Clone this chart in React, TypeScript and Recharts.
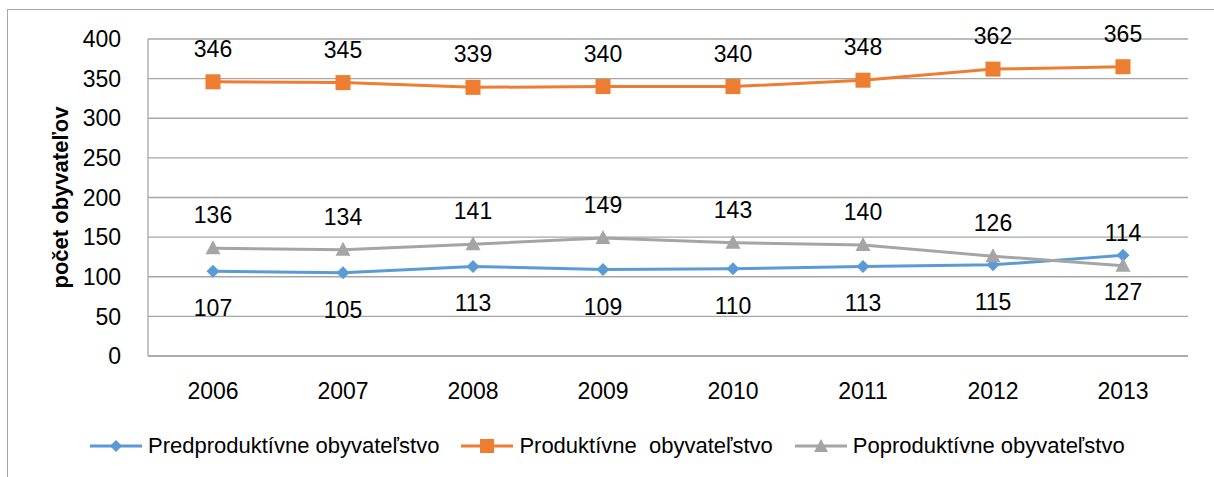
import { LineChart, Line, XAxis, YAxis, CartesianGrid, LabelList, Legend } from 'recharts'

const years = ['2006', '2007', '2008', '2009', '2010', '2011', '2012', '2013']
const predproduktivne = [107, 105, 113, 109, 110, 113, 115, 127]
const produktivne = [346, 345, 339, 340, 340, 348, 362, 365]
const poproduktivne = [136, 134, 141, 149, 143, 140, 126, 114]
const yTicks = [0, 50, 100, 150, 200, 250, 300, 350, 400]

const BLUE = '#5B9BD5'
const ORANGE = '#ED7D31'
const GRAY = '#A5A5A5'
const GRID = '#A6A6A6'
const FONT = '"Liberation Sans", Arial, sans-serif'

const data = years.map((year, i) => ({
  year,
  pre: predproduktivne[i],
  pro: produktivne[i],
  post: poproduktivne[i],
}))

const Diamond = (props: any) => {
  const { cx, cy } = props
  if (cx == null || cy == null) return null
  const r = 6.5
  return <path d={`M${cx},${cy - r}L${cx + r},${cy}L${cx},${cy + r}L${cx - r},${cy}Z`} fill={BLUE} />
}

const Square = (props: any) => {
  const { cx, cy } = props
  if (cx == null || cy == null) return null
  return <rect x={cx - 7.5} y={cy - 7.5} width={15} height={15} fill={ORANGE} />
}

const Triangle = (props: any) => {
  const { cx, cy } = props
  if (cx == null || cy == null) return null
  return <path d={`M${cx},${cy - 8}L${cx + 7.5},${cy + 6}L${cx - 7.5},${cy + 6}Z`} fill={GRAY} />
}

const makeLabel = (dy: number) => (props: any) => {
  const { x, y, value } = props
  return (
    <text x={x} y={y + dy} textAnchor="middle" fontSize={23} fontFamily={FONT} fill="#000">
      {value}
    </text>
  )
}

const legendItems = [
  { name: 'Predproduktívne obyvateľstvo', color: BLUE, shape: 'diamond' },
  { name: 'Produktívne\u00a0 obyvateľstvo', color: ORANGE, shape: 'square' },
  { name: 'Poproduktívne obyvateľstvo', color: GRAY, shape: 'triangle' },
]

const LegendContent = () => (
  <div style={{ display: 'flex', alignItems: 'center', gap: 21, paddingLeft: 89, height: 26 }}>
    {legendItems.map(item => (
      <div key={item.name} style={{ display: 'flex', alignItems: 'center', gap: 5 }}>
        <svg width={54} height={18}>
          <line x1={1} y1={9} x2={53} y2={9} stroke={item.color} strokeWidth={3} />
          {item.shape === 'diamond' && <path d="M27,3L33,9L27,15L21,9Z" fill={item.color} />}
          {item.shape === 'square' && <rect x={20} y={2} width={14} height={14} fill={item.color} />}
          {item.shape === 'triangle' && <path d="M27,2L34,15L20,15Z" fill={item.color} />}
        </svg>
        <span style={{ fontFamily: FONT, fontSize: 22, lineHeight: '26px', color: '#000', whiteSpace: 'pre' }}>{item.name}</span>
      </div>
    ))}
  </div>
)

const AxisTitle = (props: any) => {
  const { viewBox } = props
  const x = 68
  const y = viewBox.y + viewBox.height / 2
  return (
    <text
      x={x}
      y={y}
      transform={`rotate(-90, ${x}, ${y})`}
      textAnchor="middle"
      fontSize={22}
      fontWeight="bold"
      fontFamily={FONT}
      fill="#000"
    >
      počet obyvateľov
    </text>
  )
}

export default function App() {
  return (
    <div style={{ position: 'absolute', left: 0, top: 0, width: 1214, height: 477, overflow: 'hidden', background: '#fff' }}>
      <div
        style={{
          position: 'absolute',
          left: 7,
          top: 9,
          width: 1400,
          height: 700,
          border: '1px solid #A6A6A6',
        }}
      />
      <div style={{ position: 'absolute', left: 0, top: 0 }}>
        <LineChart width={1214} height={477} data={data} margin={{ top: 39, right: 26, bottom: 35, left: 48 }}>
          <CartesianGrid vertical={false} stroke={GRID} strokeWidth={1.3} />
          <XAxis
            dataKey="year"
            padding={{ left: 65, right: 65 }}
            axisLine={{ stroke: GRID, strokeWidth: 1.3 }}
            tickLine={false}
            tickSize={6}
            tickMargin={21}
            height={60}
            tick={{ fill: '#000', fontSize: 23, fontFamily: FONT }}
          />
          <YAxis
            domain={[0, 400]}
            ticks={yTicks}
            width={100}
            axisLine={{ stroke: GRID, strokeWidth: 1.3 }}
            tickLine={false}
            tickSize={6}
            tickMargin={21}
            tick={{ fill: '#000', fontSize: 23, fontFamily: FONT }}
            label={<AxisTitle />}
          />
          <Legend verticalAlign="bottom" wrapperStyle={{ left: 0, top: 433, width: 1214 }} content={<LegendContent />} />
          <Line
            dataKey="pre"
            stroke={BLUE}
            strokeWidth={3}
            dot={<Diamond />}
            activeDot={false}
            isAnimationActive={false}
          >
            <LabelList dataKey="pre" content={makeLabel(45)} />
          </Line>
          <Line
            dataKey="pro"
            stroke={ORANGE}
            strokeWidth={3}
            dot={<Square />}
            activeDot={false}
            isAnimationActive={false}
          >
            <LabelList dataKey="pro" content={makeLabel(-25)} />
          </Line>
          <Line
            dataKey="post"
            stroke={GRAY}
            strokeWidth={3}
            dot={<Triangle />}
            activeDot={false}
            isAnimationActive={false}
          >
            <LabelList dataKey="post" content={makeLabel(-25)} />
          </Line>
        </LineChart>
      </div>
    </div>
  )
}
